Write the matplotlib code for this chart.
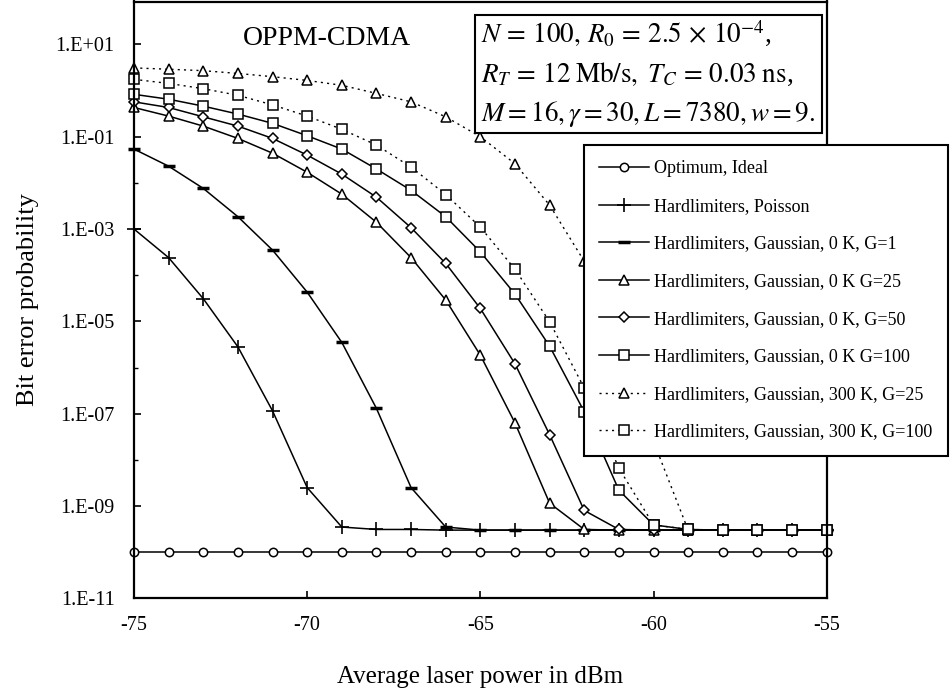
import numpy as np
import matplotlib
matplotlib.use("Agg")
import matplotlib.pyplot as plt
from matplotlib.ticker import FixedLocator, FixedFormatter, NullFormatter
from matplotlib.patches import Rectangle

plt.rcParams['font.family'] = ['Liberation Serif', 'DejaVu Serif']
plt.rcParams['mathtext.fontset'] = 'stix'

power_dbm = list(range(-75, -54))

optimum_ideal = [1.0e-10] * 21
poisson = [1.0e-3, 2.4e-4, 3.1e-5, 2.8e-6, 1.15e-7, 2.5e-9, 3.5e-10, 3.1e-10, 3.1e-10,
           3.0e-10, 3.0e-10, 3.0e-10, 3.0e-10, 3.0e-10, 3.0e-10, 3.0e-10, 3.0e-10,
           3.0e-10, 3.0e-10, 3.0e-10, 3.0e-10]
gauss_0k_g1 = [5.4e-2, 2.3e-2, 7.6e-3, 1.85e-3, 3.5e-4, 4.3e-5, 3.5e-6, 1.3e-7, 2.5e-9,
               3.5e-10, 3.0e-10, 3.0e-10, 3.0e-10, 3.0e-10, 3.0e-10, 3.0e-10, 3.0e-10,
               3.0e-10, 3.0e-10, 3.0e-10, 3.0e-10]
gauss_0k_g25 = [0.43, 0.28, 0.17, 0.092, 0.044, 0.017, 5.7e-3, 1.4e-3, 2.4e-4, 2.9e-5,
                1.85e-6, 6.3e-8, 1.15e-9, 3.1e-10, 3.0e-10, 3.0e-10, 3.0e-10, 3.0e-10,
                3.0e-10, 3.0e-10, 3.0e-10]
gauss_0k_g50 = [0.57, 0.43, 0.27, 0.17, 0.092, 0.040, 0.0155, 4.9e-3, 1.07e-3, 1.8e-4,
                1.9e-5, 1.2e-6, 3.5e-8, 8.0e-10, 3.1e-10, 3.0e-10, 3.0e-10, 3.0e-10,
                3.0e-10, 3.0e-10, 3.0e-10]
gauss_0k_g100 = [0.83, 0.65, 0.46, 0.31, 0.195, 0.105, 0.054, 0.020, 6.9e-3, 1.85e-3,
                 3.2e-4, 3.9e-5, 2.9e-6, 1.1e-7, 2.2e-9, 3.9e-10, 3.1e-10, 3.0e-10,
                 3.0e-10, 3.0e-10, 3.0e-10]
gauss_300k_g25 = [3.1, 2.9, 2.7, 2.35, 2.0, 1.66, 1.3, 0.87, 0.57, 0.27, 0.10, 0.026,
                  3.3e-3, 2.0e-4, 3.0e-6, 2.5e-8, 3.0e-10, 3.0e-10, 3.0e-10, 3.0e-10, 3.0e-10]
gauss_300k_g100 = [1.75, 1.43, 1.1, 0.79, 0.49, 0.28, 0.145, 0.066, 0.022, 5.6e-3, 1.1e-3,
                   1.35e-4, 9.8e-6, 3.6e-7, 6.6e-9, 3.9e-10, 3.1e-10, 3.0e-10, 3.0e-10,
                   3.0e-10, 3.0e-10]

labels = ["Optimum, Ideal",
          "Hardlimiters, Poisson",
          "Hardlimiters, Gaussian, 0 K, G=1",
          "Hardlimiters, Gaussian, 0 K G=25",
          "Hardlimiters, Gaussian, 0 K, G=50",
          "Hardlimiters, Gaussian, 0 K G=100",
          "Hardlimiters, Gaussian, 300 K, G=25",
          "Hardlimiters, Gaussian, 300 K, G=100"]

ytick_vals = [1e-11, 1e-9, 1e-7, 1e-5, 1e-3, 1e-1, 1e1]
ytick_labels = ["1.E-11", "1.E-09", "1.E-07", "1.E-05", "1.E-03", "1.E-01", "1.E+01"]
xtick_vals = [-75, -70, -65, -60, -55]
xtick_labels = ["-75", "-70", "-65", "-60", "-55"]

fig = plt.figure(figsize=(9.51, 6.93), dpi=100)
ax = fig.add_axes([134 / 951, 1 - 598.3 / 693, (826.7 - 134) / 951, (598.3 - 1.5) / 693])

solid = dict(color='black', lw=1.1)
dotted = dict(color='black', lw=1.0, linestyle=(0, (1.5, 3)))
mk = dict(markerfacecolor='white', markeredgecolor='black', markeredgewidth=1.1)

series = [
    (optimum_ideal, solid, dict(marker='o', markersize=6)),
    (poisson, solid, dict(marker='+', markersize=10, markeredgewidth=1.2)),
    (gauss_0k_g1, solid, dict(marker='_', markersize=9, markeredgewidth=2.5)),
    (gauss_0k_g25, solid, dict(marker='^', markersize=7)),
    (gauss_0k_g50, solid, dict(marker='D', markersize=5.5)),
    (gauss_0k_g100, solid, dict(marker='s', markersize=6.5)),
    (gauss_300k_g25, dotted, dict(marker='^', markersize=7)),
    (gauss_300k_g100, dotted, dict(marker='s', markersize=6.5)),
]
handles = []
for (vals, ls, m), lab in zip(series, labels):
    kw = dict(mk)
    kw.update(m)
    h, = ax.plot(power_dbm, vals, label=lab, clip_on=False, **ls, **kw)
    handles.append(h)

ax.set_yscale('log')
ax.set_xlim(-75, -55)
ax.set_ylim(1e-11, 10 ** 1.93)
ax.yaxis.set_major_locator(FixedLocator(ytick_vals))
ax.yaxis.set_major_formatter(FixedFormatter(ytick_labels))
ax.yaxis.set_minor_locator(FixedLocator([10.0 ** k for k in range(-10, 2, 2)]))
ax.yaxis.set_minor_formatter(NullFormatter())
ax.set_xticks(xtick_vals)
ax.set_xticklabels(xtick_labels)
ax.tick_params(axis='both', which='major', direction='in', length=5, width=1.2,
               labelsize=14.5)
ax.tick_params(axis='x', which='major', pad=13)
ax.tick_params(axis='y', which='major', pad=14)
ax.tick_params(axis='y', which='minor', direction='in', length=3, width=1.0)
for s in ax.spines.values():
    s.set_linewidth(1.6)

ax.set_ylabel("Bit error probability", fontsize=19, labelpad=12)
ax.set_xlabel("Average laser power in dBm", fontsize=18, labelpad=22)

fig.text(327 / 951, 1 - 45 / 693, "OPPM-CDMA", fontsize=20, ha='center', va='baseline')

box = Rectangle((475 / 951, 1 - 133 / 693), (822 - 475) / 951, (133 - 15) / 693,
                transform=fig.transFigure, facecolor='white', edgecolor='black',
                linewidth=1.5, zorder=5)
fig.patches.append(box)
lines = [r"$N\,=\,100,\, R_0\,=\,2.5\,\times\,10^{-4}$,",
         r"$R_T\,=\,12\;\mathrm{Mb/s},\; T_C\,=\,0.03\;\mathrm{ns}$,",
         r"$M=16, \gamma=30, L=7380, w=9.$"]
for i, t in enumerate(lines):
    fig.text(481 / 951, 1 - (43 + 39 * i) / 693, t, fontsize=19.5, ha='left',
             va='baseline', zorder=6)

leg = fig.legend(handles=handles, labels=labels, loc='upper left',
                 bbox_to_anchor=(584 / 951, 1 - 145 / 693), bbox_transform=fig.transFigure,
                 fontsize=13, frameon=True, fancybox=False, framealpha=1, edgecolor='black',
                 borderpad=0.85, labelspacing=1.14, handlelength=2.75, handletextpad=0.3,
                 numpoints=1, borderaxespad=0)
leg.get_frame().set_linewidth(1.5)
leg.set_zorder(10)

fig.savefig("out.png", dpi=100)
